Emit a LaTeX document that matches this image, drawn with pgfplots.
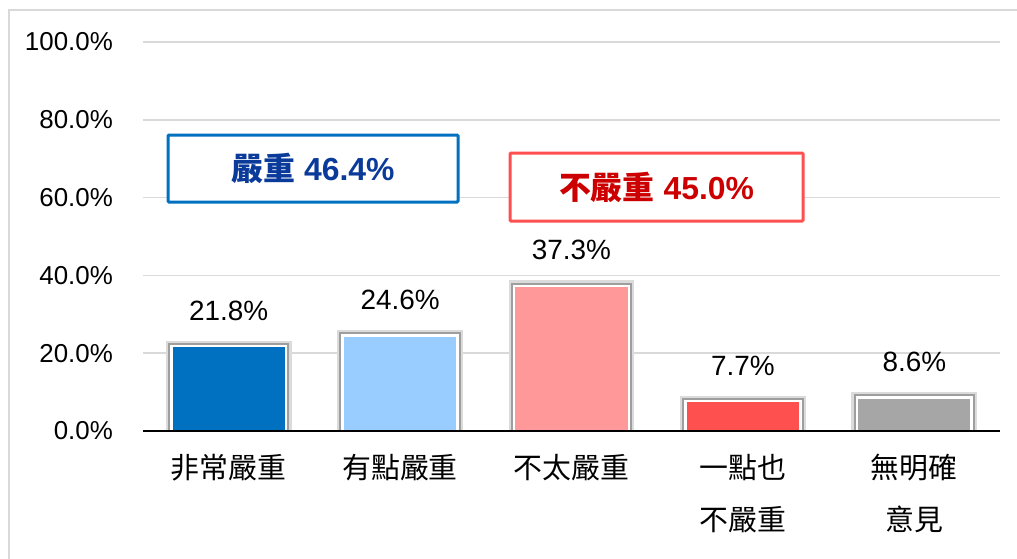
\documentclass[border=0pt]{standalone}
\usepackage{pgfplots}
\pgfplotsset{compat=1.18}
\usepackage{fontspec}
\setmainfont{Liberation Sans}
\newfontfamily\cjk{Noto Sans CJK TC}
\definecolor{c1}{HTML}{0070C0}
\definecolor{c2}{HTML}{99CCFF}
\definecolor{c3}{HTML}{FF9999}
\definecolor{c4}{HTML}{FF5050}
\definecolor{c5}{HTML}{A6A6A6}
\definecolor{gridc}{HTML}{D9D9D9}
\definecolor{bluetxt}{HTML}{0A3A9A}
\definecolor{redtxt}{HTML}{CC0000}
\begin{document}
\begin{tikzpicture}
\useasboundingbox (0bp,0bp) rectangle (1017bp,-559bp);
\draw[gridc, line width=2bp] (9bp,-559bp) -- (9bp,-10bp) -- (1017bp,-10bp);
\begin{axis}[
  at={(143bp,-431bp)}, anchor=south west,
  scale only axis, width=857bp, height=389bp,
  xmin=-0.5, xmax=4.5, ymin=0, ymax=100,
  ytick={0,20,40,60,80,100},
  ymajorgrids, grid style={gridc, line width=1.5bp},
  axis line style={draw=none},
  tick style={draw=none},
  /pgf/number format/assume math mode=true,
  yticklabel={\pgfmathprintnumber[fixed,fixed zerofill,precision=1]{\tick}\%},
  yticklabel style={font=\fontsize{26}{30}\selectfont, inner sep=0pt, anchor=east, xshift=-30bp},
  xtick={0,1,2,3,4},
  xticklabels={{非常嚴重},{有點嚴重},{不太嚴重},{一點也\\不嚴重},{無明確\\意見}},
  xticklabel style={font=\cjk\fontsize{29}{52}\selectfont, align=center, inner sep=0pt, anchor=north, yshift=-19bp},
  ybar, bar width=0.67, bar shift=0pt,
  nodes near coords={\pgfmathprintnumber[fixed,fixed zerofill,precision=1]{\pgfplotspointmeta}\%},
  every node near coord/.append style={font=\fontsize{28}{32}\selectfont, text=black, anchor=base, inner sep=0pt, yshift=26bp},
  every axis plot/.append style={
    preaction={draw=black!14, line width=11bp},
    preaction={draw=black!38, line width=6.5bp},
    draw=white, line width=2.5bp},
]
\addplot[fill=c1] coordinates {(0,21.8)};
\addplot[fill=c2] coordinates {(1,24.6)};
\addplot[fill=c3] coordinates {(2,37.3)};
\addplot[fill=c4] coordinates {(3,7.7)};
\addplot[fill=c5] coordinates {(4,8.6)};
\end{axis}
\draw[black, line width=2bp] (143bp,-431bp) -- (1000bp,-431bp);
\node[draw=c1, fill=white, line width=3bp, minimum width=290bp, minimum height=67bp, inner sep=0pt, rounded corners=1bp, text=bluetxt, font=\bfseries\fontsize{32}{36}\selectfont] at (313bp,-168.5bp) {{\cjk 嚴重} 46.4\%};
\node[draw=c4, fill=white, line width=3bp, minimum width=293bp, minimum height=68bp, inner sep=0pt, rounded corners=1bp, text=redtxt, font=\bfseries\fontsize{32}{36}\selectfont] at (656.5bp,-187bp) {{\cjk 不嚴重} 45.0\%};
\end{tikzpicture}
\end{document}
